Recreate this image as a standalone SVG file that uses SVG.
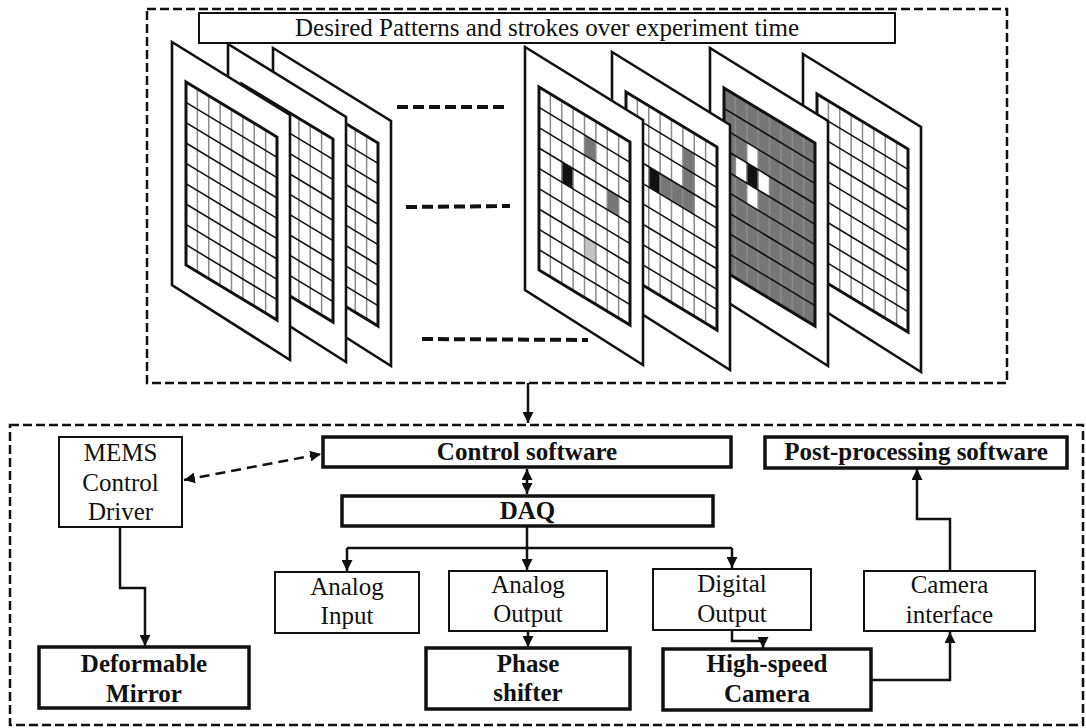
<svg xmlns="http://www.w3.org/2000/svg" xmlns:xlink="http://www.w3.org/1999/xlink" width="1086" height="728" viewBox="0 0 1086 728">
  <style>
    .frame { fill: none; stroke: #111; stroke-width: 2.5; stroke-dasharray: 9 4; }
    .sheet { fill: #fff; stroke: #111; stroke-width: 2.6; stroke-linejoin: miter; }
    .gv { stroke: #8c8c8c; stroke-width: 1.5; }
    .gh { stroke: #111; stroke-width: 1.6; }
    .gb { fill: none; stroke: #111; stroke-width: 3; }
    .gap { fill: none; stroke: #111; stroke-width: 4; stroke-dasharray: 11 5; }
    .box { fill: #fff; stroke: #111; stroke-width: 2; }
    .boxb { fill: #fff; stroke: #111; stroke-width: 3.5; }
    .lbl { font-family: 'Liberation Serif', 'DejaVu Serif', serif; font-size: 25px; text-anchor: middle; fill: #111; }
    .b { font-weight: bold; }
    .wire { fill: none; stroke: #111; stroke-width: 2.5; }
    .c-k { fill: #111; }
    .c-m { fill: #777; }
    .c-l { fill: #c4c4c4; }
    .c-w { fill: #fff; }
  </style>
  <defs>
    <marker id="arr" viewBox="0 0 10 10" refX="10" refY="5" markerWidth="11" markerHeight="11" markerUnits="userSpaceOnUse" orient="auto-start-reverse">
      <path d="M0,0 L10,5 L0,10 z" fill="#111"/>
    </marker>
    <!-- outer card of one pattern sheet -->
    <polygon id="card" class="sheet" points="0,0 118,73 118,318 0,243"/>
    <!-- 8 x 9 pixel grid, drawn in skewed space -->
    <g id="gridlines">
      <g class="gv">
        <line x1="11.375" y1="0" x2="11.375" y2="183" vector-effect="non-scaling-stroke"/>
        <line x1="22.75" y1="0" x2="22.75" y2="183" vector-effect="non-scaling-stroke"/>
        <line x1="34.125" y1="0" x2="34.125" y2="183" vector-effect="non-scaling-stroke"/>
        <line x1="45.5" y1="0" x2="45.5" y2="183" vector-effect="non-scaling-stroke"/>
        <line x1="56.875" y1="0" x2="56.875" y2="183" vector-effect="non-scaling-stroke"/>
        <line x1="68.25" y1="0" x2="68.25" y2="183" vector-effect="non-scaling-stroke"/>
        <line x1="79.625" y1="0" x2="79.625" y2="183" vector-effect="non-scaling-stroke"/>
      </g>
      <g class="gh">
        <line x1="0" y1="20.333" x2="91" y2="20.333" vector-effect="non-scaling-stroke"/>
        <line x1="0" y1="40.667" x2="91" y2="40.667" vector-effect="non-scaling-stroke"/>
        <line x1="0" y1="61" x2="91" y2="61" vector-effect="non-scaling-stroke"/>
        <line x1="0" y1="81.333" x2="91" y2="81.333" vector-effect="non-scaling-stroke"/>
        <line x1="0" y1="101.667" x2="91" y2="101.667" vector-effect="non-scaling-stroke"/>
        <line x1="0" y1="122" x2="91" y2="122" vector-effect="non-scaling-stroke"/>
        <line x1="0" y1="142.333" x2="91" y2="142.333" vector-effect="non-scaling-stroke"/>
        <line x1="0" y1="162.667" x2="91" y2="162.667" vector-effect="non-scaling-stroke"/>
      </g>
      <rect class="gb" x="0" y="0" width="91" height="183" vector-effect="non-scaling-stroke"/>
    </g>
  </defs>

  <!-- upper frame: pattern sequence -->
  <rect id="frame-top" class="frame" x="147" y="9" width="860" height="374"/>

  <!-- first sequence of sheets (back to front) -->
  <g id="sheet-3" transform="translate(273,48)">
    <use xlink:href="#card"/>
    <g transform="translate(14,40) skewY(31.15)"><use xlink:href="#gridlines"/></g>
  </g>
  <g id="sheet-2" transform="translate(228,44)">
    <use xlink:href="#card"/>
    <g transform="translate(14,40) skewY(31.15)"><use xlink:href="#gridlines"/></g>
  </g>
  <g id="sheet-1" transform="translate(172,42)">
    <use xlink:href="#card"/>
    <g transform="translate(14,40) skewY(31.15)"><use xlink:href="#gridlines"/></g>
  </g>

  <!-- later sheets (back to front) -->
  <g id="sheet-d" transform="translate(803,54)">
    <use xlink:href="#card"/>
    <g transform="translate(14,40) skewY(31.15)"><use xlink:href="#gridlines"/></g>
  </g>
  <g id="sheet-c" transform="translate(710,48)">
    <use xlink:href="#card"/>
    <g transform="translate(14,40) skewY(31.15)">
      <rect class="c-m" x="0" y="0" width="91" height="183"/>
      <rect class="c-w" x="22.75" y="40.667" width="11.375" height="20.333"/>
      <rect class="c-w" x="11.375" y="61" width="11.375" height="20.333"/>
      <rect class="c-w" x="34.125" y="61" width="11.375" height="20.333"/>
      <rect class="c-w" x="22.75" y="81.333" width="11.375" height="20.333"/>
      <rect class="c-k" x="22.75" y="61" width="11.375" height="20.333"/>
      <use xlink:href="#gridlines"/>
    </g>
  </g>
  <g id="sheet-b" transform="translate(612,52)">
    <use xlink:href="#card"/>
    <g transform="translate(14,40) skewY(31.15)">
      <rect class="c-k" x="22.75" y="61" width="11.375" height="20.333"/>
      <rect class="c-m" x="34.125" y="61" width="11.375" height="20.333"/>
      <rect class="c-m" x="45.5" y="61" width="11.375" height="20.333"/>
      <rect class="c-m" x="56.875" y="20.333" width="11.375" height="61"/>
      <use xlink:href="#gridlines"/>
    </g>
  </g>
  <g id="sheet-a" transform="translate(525,47)">
    <use xlink:href="#card"/>
    <g transform="translate(14,40) skewY(31.15)">
      <rect class="c-m" x="45.5" y="20.333" width="11.375" height="20.333"/>
      <rect class="c-k" x="22.75" y="61" width="11.375" height="20.333"/>
      <rect class="c-m" x="68.25" y="61" width="11.375" height="20.333"/>
      <rect class="c-l" x="45.5" y="122" width="11.375" height="20.333"/>
      <use xlink:href="#gridlines"/>
    </g>
  </g>

  <!-- ellipsis dashes between the two sequences -->
  <g id="ellipsis">
    <line class="gap" x1="397" y1="107" x2="508" y2="107"/>
    <line class="gap" x1="406" y1="207" x2="510" y2="206"/>
    <line class="gap" x1="422" y1="339" x2="588" y2="340"/>
  </g>

  <g id="title">
    <rect class="box" x="199" y="13" width="696" height="30"/>
    <text class="lbl" x="547" y="36">Desired Patterns and strokes over experiment time</text>
  </g>

  <!-- lower frame: hardware and software chain -->
  <rect id="frame-bottom" class="frame" x="10" y="425" width="1073" height="300"/>

  <g id="connectors">
    <path class="wire" d="M528,383 V423" stroke-width="3" marker-end="url(#arr)"/>
    <path class="wire" d="M120,527 V588 H145 V646" marker-end="url(#arr)"/>
    <path class="wire" d="M184,480 L321,454" stroke-dasharray="10 6" marker-start="url(#arr)" marker-end="url(#arr)"/>
    <path class="wire" d="M527,469 V494" marker-start="url(#arr)" marker-end="url(#arr)"/>
    <path class="wire" d="M527,526 V548"/>
    <path class="wire" d="M347,548 H732"/>
    <path class="wire" d="M347,548 V571" marker-end="url(#arr)"/>
    <path class="wire" d="M527,548 V570" marker-end="url(#arr)"/>
    <path class="wire" d="M732,548 V568" marker-end="url(#arr)"/>
    <path class="wire" d="M528,631 V647" marker-end="url(#arr)"/>
    <path class="wire" d="M732,631 V641 H763 V648" marker-end="url(#arr)"/>
    <path class="wire" d="M871,680 H950 V632" marker-end="url(#arr)"/>
    <path class="wire" d="M950,571 V519 H917 V469" marker-end="url(#arr)"/>
  </g>

  <g id="mems-driver">
    <rect class="box" x="59" y="437" width="123" height="90"/>
    <text class="lbl" x="120.5" y="461">MEMS</text>
    <text class="lbl" x="120.5" y="491">Control</text>
    <text class="lbl" x="120.5" y="520">Driver</text>
  </g>
  <g id="deformable-mirror">
    <rect class="boxb" x="39" y="647" width="210" height="61"/>
    <text class="lbl b" x="144" y="672">Deformable</text>
    <text class="lbl b" x="144" y="702">Mirror</text>
  </g>
  <g id="control-software">
    <rect class="boxb" x="323" y="437" width="408" height="30"/>
    <text class="lbl b" x="527" y="460">Control software</text>
  </g>
  <g id="daq">
    <rect class="boxb" x="342" y="496" width="371" height="30"/>
    <text class="lbl b" x="527.5" y="519">DAQ</text>
  </g>
  <g id="analog-input">
    <rect class="box" x="275" y="572" width="144" height="61"/>
    <text class="lbl" x="347" y="595">Analog</text>
    <text class="lbl" x="347" y="624">Input</text>
  </g>
  <g id="analog-output">
    <rect class="box" x="449" y="571" width="158" height="60"/>
    <text class="lbl" x="528" y="593">Analog</text>
    <text class="lbl" x="528" y="622">Output</text>
  </g>
  <g id="digital-output">
    <rect class="box" x="653" y="569" width="158" height="61"/>
    <text class="lbl" x="732" y="592">Digital</text>
    <text class="lbl" x="732" y="622">Output</text>
  </g>
  <g id="phase-shifter">
    <rect class="boxb" x="426" y="648" width="204" height="61"/>
    <text class="lbl b" x="528" y="672">Phase</text>
    <text class="lbl b" x="528" y="701">shifter</text>
  </g>
  <g id="high-speed-camera">
    <rect class="boxb" x="663" y="649" width="208" height="61"/>
    <text class="lbl b" x="767" y="672">High-speed</text>
    <text class="lbl b" x="767" y="702">Camera</text>
  </g>
  <g id="camera-interface">
    <rect class="box" x="864" y="571" width="171" height="60"/>
    <text class="lbl" x="949.5" y="593">Camera</text>
    <text class="lbl" x="949.5" y="623">interface</text>
  </g>
  <g id="post-processing">
    <rect class="boxb" x="765" y="437" width="302" height="31"/>
    <text class="lbl b" x="916" y="460">Post-processing software</text>
  </g>
</svg>
